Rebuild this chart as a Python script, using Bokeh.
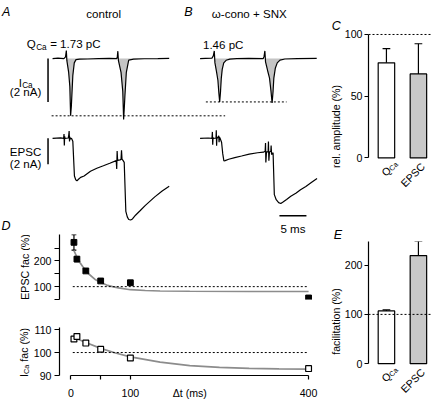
import numpy as np
from bokeh.plotting import figure
from bokeh.layouts import row, column
from bokeh.models import Range1d, Label, Span, Whisker, TeeHead, ColumnDataSource, FixedTicker
from bokeh.embed import file_html
from bokeh.resources import INLINE

# ============================ DATA ============================
# Panels A / B: example sweeps; time in ms from sweep start, currents in nA
ica_ctrl_t = [0, 1.0, 2.1, 2.4, 2.55, 2.65, 2.98, 3.2, 3.34, 3.48, 3.75, 4.02, 4.34, 5.0, 6.5, 8.5,
              10.5, 11.9, 12.0, 12.09, 12.2, 12.68, 13.0, 13.16, 13.3, 13.39, 13.66, 14.1, 15.0, 17.0, 19.5, 21.6]
ica_ctrl_i = [0, 0.02, 0, 0.08, 0.37, -0.1, -0.64, -1.3, -2.64, -2.2, -0.79, -0.2, -0.05, -0.03, -0.02, 0,
              0.01, 0, 0.1, 0.34, -0.1, -0.64, -1.5, -2.81, -2.2, -1.76, -0.64, -0.07, -0.03, -0.01, 0, 0.01]
epsc_ctrl_t = [0, 1.5, 2.05, 2.12, 2.18, 2.24, 2.3, 2.9, 3.0, 3.07, 3.14, 3.2, 3.3, 3.5, 3.75, 4.05, 4.29,
               4.52, 4.8, 5.2, 5.84, 7.02, 8.2, 9.41, 10.6, 11.79, 11.88, 11.96, 12.05, 12.5, 12.68, 12.77,
               12.86, 13.04, 13.27, 13.57, 13.84, 14.1, 14.46, 14.8, 15.36, 16.25, 17.14, 18.93, 20.3, 21.6]
epsc_ctrl_i = [0, 0.03, 0, 0.33, -0.56, 0.15, 0, 0.02, 0.25, 0.55, -0.25, 0.1, -0.05, 0, -0.22, -2.9, -3.19,
               -3.27, -3.15, -3.0, -2.9, -2.53, -2.3, -2.11, -1.92, -1.72, -2.35, -0.98, -1.7, -1.66, -1.62, -0.93,
               -1.6, -1.7, -1.85, -5.61, -6.04, -6.24, -6.28, -6.2, -5.91, -5.55, -5.17, -4.5, -4.05, -3.69]
ica_drug_t = [0, 1.0, 2.2, 2.45, 2.63, 2.75, 3.04, 3.3, 3.48, 3.63, 3.79, 3.93, 4.1, 4.38, 4.82, 5.5, 6.8,
              9.0, 11.7, 11.85, 12.0, 12.12, 12.5, 12.86, 13.13, 13.34, 13.52, 13.66, 13.93, 14.29, 14.8, 15.7,
              18.0, 21.6]
ica_drug_i = [0, 0.01, 0.02, 0.12, 0.35, -0.2, -0.6, -1.0, -1.6, -2.0, -1.5, -0.9, -0.5, -0.2, -0.08, -0.03, 0,
              0.01, 0, 0.1, 0.35, -0.15, -0.55, -0.9, -1.5, -2.05, -1.5, -0.9, -0.45, -0.2, -0.07, -0.02,
              0, 0.01]
epsc_drug_t = [0, 1.5, 2.2, 2.28, 2.34, 2.4, 2.5, 2.95, 3.0, 3.06, 3.12, 3.2, 3.45, 3.52, 3.58, 3.7, 3.98, 4.2,
               4.41, 4.64, 5.3, 6.43, 7.68, 9.1, 10.66, 11.73, 12.05, 12.12, 12.18, 12.3, 12.6, 12.66, 12.74,
               12.85, 13.1, 13.16, 13.24, 13.52, 13.75, 14.1, 14.55, 14.95, 15.36, 16.02, 16.8, 17.8, 18.6,
               19.59, 20.6, 21.66]
epsc_drug_i = [0, 0.02, 0, 0.49, -0.5, 0.05, 0, 0.02, 0.61, -0.57, 0.1, 0, 0.2, -0.3, 0.1, 0, -0.3, -1.2,
               -1.74, -1.72, -1.61, -1.48, -1.36, -1.22, -1.11, -1.07, -1.0, -0.37, -1.85, -1.05, -1.02, -0.25,
               -1.73, -1.05, -1.0, -0.55, -1.25, -1.11, -4.33, -4.72, -4.94, -5.01, -4.9, -4.7, -4.45, -4.2,
               -3.95, -3.7, -3.4, -3.09]
qca_ctrl = 1.73   # pC
qca_drug = 1.46   # pC
ica_scale_nA = 2
epsc_scale_nA = 2
time_scale_ms = 5

# Panel C: relative amplitude (%)
cats = ["QCa", "EPSC"]
c_rel_amp = [77, 68]
c_rel_amp_err = [11.5, 24.5]

# Panel D: paired-pulse facilitation vs interval
d_dt = [5, 10, 25, 50, 100, 400]
d_epsc_fac = [272, 207, 161, 122, 115, 56]
d_epsc_err = [30, 10, 4, 4, 4, 3]
d_epsc_fit_dt = [5, 10, 15, 20, 25, 30, 40, 50, 60, 70, 80, 100, 125, 150, 200, 300, 400]
d_epsc_fit = [240, 215, 194, 177, 162, 149, 129, 116, 106, 100, 95, 88, 85, 83, 82, 81, 81]
d_ica_fac = [105.9, 107.0, 104.1, 101.4, 97.6, 93.0]
d_ica_err = [0.6, 0.5, 0.3, 0.3, 0.3, 0.6]
d_ica_fit_dt = [5, 10, 25, 50, 75, 100, 150, 200, 250, 300, 350, 400]
d_ica_fit = [106.5, 106.0, 104.4, 101.8, 99.8, 98.1, 95.8, 94.3, 93.5, 93.1, 92.9, 92.8]
d_xticks = [0, 50, 100, 400]
d_xlabel_ticks = [0, 100, 400]
ref_level = 100

# Panel E: facilitation (%)
e_fac = [107, 219.5]
e_fac_err = [2, 29]

# ============================ LAYOUT / STYLE ============================
S = 431 / 447
FONT = "Liberation Sans"


def fs(v):
    return f"{v * S:.2f}px"


def P(v):
    return int(round(v * S))


def base_fig(w, h, xr, yr, left=0, right=0, top=0, bottom=0, yaxis=False, xaxis=False):
    p = figure(width=w, height=h, x_range=xr, y_range=yr, output_backend="svg",
               toolbar_location=None, frame_align=False,
               x_axis_location="below" if xaxis else None,
               y_axis_location="left" if yaxis else None,
               min_border_left=left, min_border_right=right,
               min_border_top=top, min_border_bottom=bottom)
    p.outline_line_color = None
    p.background_fill_color = "white"
    p.border_fill_color = "white"
    p.grid.grid_line_color = None
    return p


def style_axis(ax, ticks, overrides=None, tick_out=4, standoff=2, label=None, label_standoff=0):
    ax.ticker = FixedTicker(ticks=ticks, minor_ticks=[])
    ax.major_tick_out = tick_out
    ax.major_tick_in = 0
    ax.minor_tick_line_color = None
    ax.axis_line_width = 1.2
    ax.major_tick_line_width = 1.2
    ax.axis_line_color = "black"
    ax.major_tick_line_color = "black"
    ax.major_label_text_font = FONT
    ax.major_label_text_font_size = fs(11)
    ax.major_label_text_color = "black"
    ax.major_label_standoff = standoff
    if overrides:
        ax.major_label_overrides = overrides
    if label:
        ax.axis_label = label
        ax.axis_label_text_font = FONT
        ax.axis_label_text_font_size = fs(11)
        ax.axis_label_text_font_style = "normal"
        ax.axis_label_text_color = "black"
        ax.axis_label_standoff = label_standoff


def lab(p, x, y, text, size=11, style="normal", align="left", angle=0.0, xo=0.0, yo=0.0,
        y_range_name="default"):
    p.add_layout(Label(x=x, y=y, text=text, text_font=FONT, text_font_size=fs(size),
                       text_font_style=style, text_align=align, text_baseline="alphabetic",
                       angle=angle, x_offset=xo * S, y_offset=yo * S, text_color="black",
                       y_range_name=y_range_name))


def panel_letter(p, text, offset, standoff):
    p.title.text = text
    p.title.align = "left"
    p.title.offset = offset * S
    p.title.standoff = standoff
    p.title.text_font = FONT
    p.title.text_font_size = fs(13)
    p.title.text_font_style = "italic"
    p.title.text_color = "black"


# ---------- Panels A/B (traces) ----------
def tx(px):
    return (px - 54) / 5.6


def ty(py):
    return (60.2 - py) / 22.5


def ey(py):
    return (142.9 - py) / 13.5


LW = P(335)
RW = 431 - LW
T_REF = 243
T_H = P(T_REF)
pT = base_fig(LW, T_H, Range1d(tx(0), tx(335)), Range1d(ty(T_H / S), ty(0)))
pT.extra_y_ranges = {"epsc": Range1d(ey(T_H / S), ey(0))}
B_SHIFT = tx(207)

for it, ii, et, ei, sh in [(ica_ctrl_t, ica_ctrl_i, epsc_ctrl_t, epsc_ctrl_i, 0.0),
                           (ica_drug_t, ica_drug_i, epsc_drug_t, epsc_drug_i, B_SHIFT)]:
    t = np.array(it) + sh
    i = np.array(ii)
    pT.varea(x=t, y1=np.minimum(i, 0), y2=np.zeros_like(i), fill_color="#c4c4c4")
    pT.line(t, i, line_color="black", line_width=1.2)
    pT.line(np.array(et) + sh, ei, y_range_name="epsc", line_color="black", line_width=1.2)

peak_ctrl = min(v for t, v in zip(ica_ctrl_t, ica_ctrl_i) if t < 8)
peak_drug = min(v for t, v in zip(ica_drug_t, ica_drug_i) if t < 8)
pT.line([tx(53), tx(233)], [peak_ctrl, peak_ctrl], line_dash="2 2", line_color="black", line_width=1)
pT.line([tx(213), tx(296.7)], [peak_drug, peak_drug], line_dash="2 2", line_color="black", line_width=1)

# scale bars
pT.line([tx(49.3)] * 2, [0, -ica_scale_nA], line_color="black", line_width=1.5)
pT.line([tx(49.3)] * 2, [0, -epsc_scale_nA], y_range_name="epsc", line_color="black", line_width=1.5)
pT.line([tx(289.3), tx(289.3) + time_scale_ms], [ey(223.3)] * 2, y_range_name="epsc",
        line_color="black", line_width=1.5)

lab(pT, tx(1.5), ty(12), "A", size=13, style="italic")
lab(pT, tx(107), ty(13.5), "control", size=12, align="center")
lab(pT, tx(190.5), ty(12), "B", size=13, style="italic")
lab(pT, tx(258), ty(14.5), "ω-cono + SNX", size=12, align="center")
lab(pT, tx(27.3), ty(45.5), "Q", size=12)
lab(pT, tx(37), ty(48.5), "Ca", size=8.5)
lab(pT, tx(51.5), ty(45.5), f"= {qca_ctrl:.2f} pC", size=12)
lab(pT, tx(210), ty(46.5), f"{qca_drug:.2f} pC", size=12)
lab(pT, tx(19), ty(85.5), "I", size=12)
lab(pT, tx(22.5), ty(88.5), "Ca", size=8.5)
lab(pT, tx(26), ty(95), f"({ica_scale_nA} nA)", size=12, align="center")
lab(pT, tx(26), ty(156.7), "EPSC", size=12, align="center")
lab(pT, tx(26), ty(169.5), f"({epsc_scale_nA} nA)", size=12, align="center")
lab(pT, tx(303.3), ty(237.3), f"{time_scale_ms} ms", size=12, align="center")
lab(pT, tx(1), ty(234), "D", size=13, style="italic")


# ---------- Panel D ----------
def dxx(px):
    return (px - 71) / 0.621


D_XR = (dxx(59), dxx(335))
LAB_W = P(31)
D_LEFT = P(59) - LAB_W
D1_TOP_REF = T_REF

# upper D: label strip + plot
D1_H = P(318 - D1_TOP_REF)
D1_FRAME = P(67.7)
pD1lab = base_fig(LAB_W, D1_H, Range1d(0, LAB_W / S), Range1d(D1_TOP_REF + D1_H / S, D1_TOP_REF))
lab(pD1lab, 25, D1_TOP_REF + D1_FRAME / S / 2, "EPSC fac (%)", size=11, align="center", angle=np.pi / 2)

pD1 = base_fig(LW - LAB_W, D1_H, Range1d(*D_XR), Range1d(50, 302.5), left=D_LEFT, top=0,
               bottom=D1_H - D1_FRAME, yaxis=True)
style_axis(pD1.yaxis[0], [50, 100, 150, 200, 250], {50: " ", 150: " ", 250: " "},
           tick_out=5, standoff=3)
pD1.line(d_epsc_fit_dt, d_epsc_fit, line_color="#8c8c8c", line_width=1.7)
pD1.line([3, max(d_dt)], [ref_level, ref_level], line_dash="2 2", line_color="black", line_width=1)
src1 = ColumnDataSource(dict(x=d_dt, up=[v + e for v, e in zip(d_epsc_fac, d_epsc_err)],
                             lo=[v - e for v, e in zip(d_epsc_fac, d_epsc_err)]))
pD1.add_layout(Whisker(source=src1, base="x", upper="up", lower="lo", dimension="height",
                       line_color="black", line_width=1.2, level="underlay",
                       upper_head=TeeHead(size=5 * S, line_width=1.2),
                       lower_head=TeeHead(size=5 * S, line_width=1.2)))
pD1.scatter(d_dt, d_epsc_fac, marker="square", size=6 * S, fill_color="black", line_color="black")

# lower D: label strip + plot
D2_H = 401 - T_H - D1_H
pD2lab = base_fig(LAB_W, D2_H, Range1d(0, LAB_W / S), Range1d(318 + D2_H / S, 318))
lab(pD2lab, 24.5, 391, "I", size=11, angle=np.pi / 2)
lab(pD2lab, 27, 387.9, "Ca", size=7.5, angle=np.pi / 2)
lab(pD2lab, 24.5, 375.2, "fac (%)", size=11, angle=np.pi / 2)

pD2 = base_fig(LW - LAB_W, D2_H, Range1d(*D_XR), Range1d(90, 110.9), left=D_LEFT, top=P(21.3),
               bottom=D2_H - P(21.3) - P(51.8), yaxis=True, xaxis=True)
style_axis(pD2.yaxis[0], [90, 100, 110], tick_out=5, standoff=3)
# x axis: visible tick marks are drawn as (label-less) minor ticks; the axis title sits in the label row
xl_pos = (d_xticks[0] + max(d_xticks)) / 2
xax = pD2.xaxis[0]
style_axis(xax, d_xlabel_ticks + [xl_pos], {xl_pos: "Δt (ms)"}, tick_out=0, standoff=7)
xax.ticker = FixedTicker(ticks=sorted(d_xlabel_ticks + [xl_pos]), minor_ticks=d_xticks)
xax.minor_tick_out = 4
xax.minor_tick_in = 0
xax.minor_tick_line_color = "black"
xax.minor_tick_line_width = 1.2
xax.major_tick_line_color = None
xax.bounds = (min(d_xticks), max(d_xticks))
pD2.line(d_ica_fit_dt, d_ica_fit, line_color="#8c8c8c", line_width=1.7)
pD2.line([3, max(d_dt)], [ref_level, ref_level], line_dash="2 2", line_color="black", line_width=1)
src2 = ColumnDataSource(dict(x=d_dt, up=[v + e for v, e in zip(d_ica_fac, d_ica_err)],
                             lo=[v - e for v, e in zip(d_ica_fac, d_ica_err)]))
pD2.add_layout(Whisker(source=src2, base="x", upper="up", lower="lo", dimension="height",
                       line_color="black", line_width=1.2, level="underlay",
                       upper_head=TeeHead(size=5 * S, line_width=1.2),
                       lower_head=TeeHead(size=5 * S, line_width=1.2)))
pD2.scatter(d_dt, d_ica_fac, marker="square", size=6 * S, fill_color="white", line_color="black",
            line_width=1.2)


# ---------- Panels C and E (bars) ----------
def cx(px):
    return (px - 400.5) / 33


BAR_XR = (cx(382), cx(447))
idx = list(range(len(cats)))
bar_fill = ["white", "#c8c8c8"]


def bar_panel(h, top_px, y_top, px_per_unit, means, errs, ticks, ylabel, bound_top):
    frame_h_ref = (h - top_px) / S
    y_bot = y_top - frame_h_ref / px_per_unit
    p = base_fig(RW, h, Range1d(*BAR_XR), Range1d(y_bot, y_top), left=P(47), top=top_px, bottom=0,
                 yaxis=True)
    style_axis(p.yaxis[0], ticks, tick_out=4, standoff=2, label=ylabel, label_standoff=0)
    p.yaxis[0].bounds = (0, bound_top)
    p.vbar(x=idx, top=means, bottom=0, width=17 / 33, fill_color=bar_fill, line_color="black",
           line_width=1.2)
    p.add_layout(Span(location=ref_level, dimension="width", line_dash="2 2", line_color="black",
                      line_width=1))
    src = ColumnDataSource(dict(x=idx, up=[m + e for m, e in zip(means, errs)],
                                lo=[m - e for m, e in zip(means, errs)]))
    p.add_layout(Whisker(source=src, base="x", upper="up", lower="lo", dimension="height",
                         line_color="black", line_width=1.2,
                         upper_head=TeeHead(size=8 * S, line_width=1.2),
                         lower_head=TeeHead(size=8 * S, line_width=1.2)))
    a = np.pi / 4
    lab(p, idx[0], 0, "Q", size=11, angle=a, xo=-3.5, yo=-17)
    lab(p, idx[0], 0, "Ca", size=7.5, angle=a, xo=4.0, yo=-12.3)
    lab(p, idx[1], 0, cats[1], size=11, angle=a, xo=-16.5, yo=-28)
    return p


C_H = P(228)
pC = bar_panel(C_H, P(33), 101.6, 1.28, c_rel_amp, c_rel_amp_err, [0, 50, 100],
               "rel. amplitude (%)", 100)
panel_letter(pC, "C", -38, 0)

E_H = 401 - C_H
pE = bar_panel(E_H, P(22), 248, 0.5108, e_fac, e_fac_err, [0, 100, 200], "facilitation (%)", 248)
panel_letter(pE, "E", -36, 0)

layout = row(column(pT, row(pD1lab, pD1), row(pD2lab, pD2)), column(pC, pE))
open("out.html", "w").write(file_html(layout, INLINE))
